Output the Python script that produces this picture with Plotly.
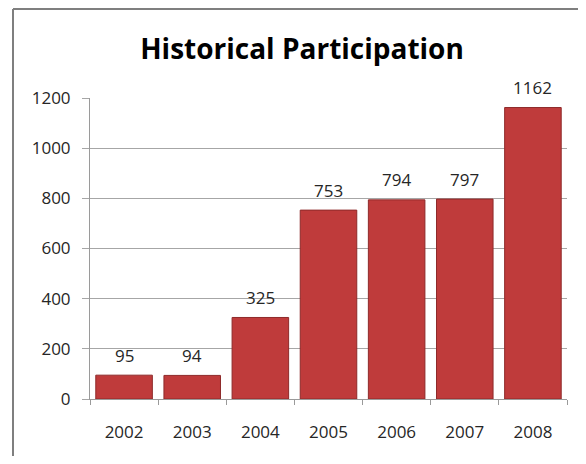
import plotly.graph_objects as go

years = ["2002", "2003", "2004", "2005", "2006", "2007", "2008"]
participants = [95, 94, 325, 753, 794, 797, 1162]
y_ticks = [0, 200, 400, 600, 800, 1000, 1200]
title_text = "Historical Participation"

OFF = 8  # page body margin offset
W, H = 586 - 2 * OFF, 464 - 2 * OFF
L, R, T, B = 90 - OFF, 567 - OFF, 98 - OFF, 399 - OFF

fig = go.Figure()
fig.add_trace(go.Bar(
    x=years, y=participants,
    marker=dict(color="#BF3B3B", line=dict(color="#8E2A2A", width=1)),
    hoverinfo="x+y",
))

# value labels, positioned by category index on the category axis
for i, v in enumerate(participants):
    fig.add_annotation(x=i, y=v, text=str(v), showarrow=False,
                       yshift=20, yanchor="middle",
                       font=dict(family="Open Sans", size=17, color="#262626"))

fig.update_layout(
    width=W, height=H,
    margin=dict(l=L, r=W - R, t=T, b=H - B, pad=0, autoexpand=False),
    paper_bgcolor="white", plot_bgcolor="white",
    bargap=0.17,
    showlegend=False,
    title=dict(text="<b>" + title_text + "</b>", x=(302 - OFF) / W, xanchor="center",
               y=1 - (49 - OFF) / H, yanchor="middle", xref="container", yref="container",
               font=dict(family="Open Sans", size=28, color="#000000")),
    font=dict(family="Open Sans", size=17, color="#262626"),
)
fig.update_yaxes(
    range=[0, 1200], tickvals=y_ticks, ticktext=[str(t) for t in y_ticks],
    showgrid=True, gridcolor="#A6A6A6", gridwidth=1,
    showline=True, linecolor="#9A9A9A", linewidth=1,
    ticks="outside", ticklen=7, tickcolor="#A6A6A6",
    ticklabelstandoff=8, zeroline=False,
)
fig.update_xaxes(
    type="category", tickangle=0, categoryorder="array", categoryarray=years,
    range=[-0.5, len(years) - 0.5],
    showline=True, linecolor="#9A9A9A", linewidth=1,
    ticks="outside", ticklen=5, tickcolor="#9A9A9A", tickson="boundaries",
    ticklabelstandoff=18,
)
# chart border: left and top edges only (the rest lies outside the picture)
bx0 = (13 - OFF - L) / (R - L)
bx1 = (W - L) / (R - L)
by0 = -(H - B) / (B - T)
by1 = 1 + (T - 1) / (B - T)
fig.add_shape(type="line", xref="paper", yref="paper", x0=bx0, x1=bx1, y0=by1, y1=by1,
              line=dict(color="#7F7F7F", width=2), layer="below")
fig.add_shape(type="line", xref="paper", yref="paper", x0=bx0, x1=bx0, y0=by0, y1=by1,
              line=dict(color="#7F7F7F", width=2), layer="below")

fig.write_html("out.html")
